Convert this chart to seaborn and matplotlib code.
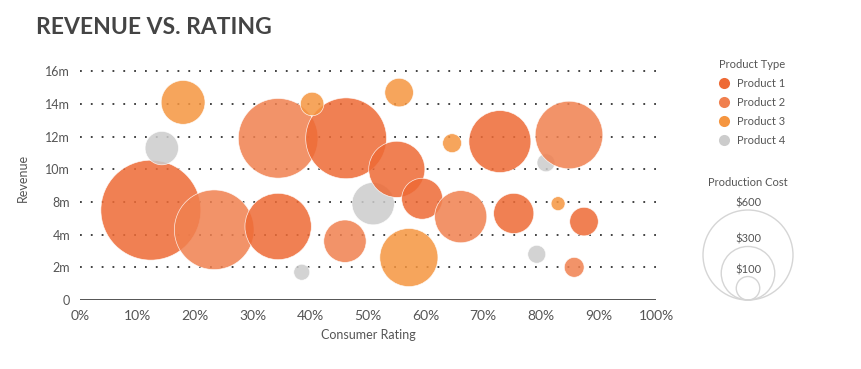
import matplotlib.pyplot as plt
import pandas as pd
import seaborn as sns
from matplotlib.lines import Line2D
from matplotlib.patches import Circle

# data (revenue in axis units, cost in $)
product = ["Product 1", "Product 2", "Product 1", "Product 2", "Product 1",
           "Product 3", "Product 4", "Product 3", "Product 2", "Product 4",
           "Product 4", "Product 3", "Product 1", "Product 1", "Product 3",
           "Product 3", "Product 2", "Product 1", "Product 1", "Product 4",
           "Product 4", "Product 2", "Product 3", "Product 1", "Product 2"]
rating = [12.3, 23.3, 34.4, 34.4, 46.2, 17.9, 14.2, 40.3, 46.0, 38.5,
          50.9, 55.4, 55.0, 59.4, 57.1, 64.6, 66.1, 72.9, 75.3, 79.3,
          80.9, 84.9, 83.0, 87.5, 85.8]
revenue = [5.5, 4.3, 4.5, 9.9, 9.9, 12.1, 9.3, 12.0, 3.6, 1.7,
           5.9, 12.7, 8.0, 6.2, 2.6, 9.6, 5.1, 9.7, 5.3, 2.8,
           8.4, 10.1, 5.9, 4.8, 2.0]
cost = [690, 510, 400, 510, 520, 230, 160, 100, 220, 60,
        220, 130, 320, 210, 335, 75, 290, 365, 205, 70,
        70, 410, 50, 130, 80]

product_types = ["Product 1", "Product 2", "Product 3", "Product 4"]
colors = ["#EE6A35", "#F0804F", "#F5953F", "#CCCCCC"]
ytick_pos = [0, 2, 4, 6, 8, 10, 12, 14]
ytick_labels = ["0", "2m", "4m", "8m", "10m", "12m", "14m", "16m"]
xtick_pos = [0, 10, 20, 30, 40, 50, 60, 70, 80, 90, 100]
legend_costs = [600, 300, 100]

W, H, DPI = 861, 369, 100
text_col = "#555555"
plt.rcParams["font.family"] = ["Lato", "DejaVu Sans"]


def radius_px(c):
    return 45 * (c / 600) ** 0.75


df = pd.DataFrame({"Product": product, "Rating": rating, "Revenue": revenue, "Cost": cost})
df["area"] = [(2 * radius_px(c) * 72 / DPI) ** 2 for c in df["Cost"]]

fig = plt.figure(figsize=(W / DPI, H / DPI), dpi=DPI)
ax = fig.add_axes([80 / W, 69 / H, 576 / W, 245 / H])

for y in ytick_pos[1:]:
    ax.plot([0, 100.8], [y, y], linestyle=(0, (1, 5)), color="#333333",
            lw=1.3, zorder=1, clip_on=False)

sns.scatterplot(data=df, x="Rating", y="Revenue", hue="Product",
                hue_order=product_types, palette=colors,
                size="area", sizes=(df["area"].min(), df["area"].max()),
                size_norm=(df["area"].min(), df["area"].max()),
                alpha=0.85, edgecolor="white", linewidth=0.5,
                legend=False, ax=ax, zorder=2, clip_on=False)

ax.set_xlim(0, 100)
ax.set_ylim(0, 15)
ax.axhline(0, color="#444444", lw=2, zorder=3)
ax.set_xticks(xtick_pos)
ax.set_xticklabels([f"{v}%" for v in xtick_pos], fontsize=10, color=text_col)
ax.set_yticks(ytick_pos)
ax.set_yticklabels(ytick_labels, fontsize=9, color=text_col)
ax.tick_params(length=0, pad=7)
for s in ax.spines.values():
    s.set_visible(False)
ax.set_xlabel("Consumer Rating", fontsize=9, color=text_col, labelpad=5)
ax.set_ylabel("Revenue", fontsize=9, color=text_col, labelpad=12)

fig.text(36 / W, 1 - 27 / H, "REVENUE VS. RATING", fontsize=16.5, fontweight="bold",
         color="#444444", va="center", ha="left")

# product type legend
handles = [Line2D([], [], marker="o", linestyle="", markersize=8,
                  markerfacecolor=c, markeredgecolor="none") for c in colors]
leg = fig.legend(handles, product_types, title="Product Type", loc="upper left",
                 bbox_to_anchor=(713 / W, 1 - 53 / H), frameon=False,
                 fontsize=8, title_fontsize=8, labelspacing=0.72,
                 handletextpad=0.7, borderpad=0, handlelength=1)
leg._legend_box.align = "left"
for t in leg.get_texts():
    t.set_color(text_col)
leg.get_title().set_color(text_col)

# production cost legend
fig.text(748 / W, 1 - 183 / H, "Production Cost", fontsize=8, color=text_col,
         ha="center", va="center")
lax = fig.add_axes([690 / W, 0, 120 / W, 1])
lax.set_xlim(690, 810)
lax.set_ylim(H, 0)
lax.axis("off")
for c in legend_costs:
    r = radius_px(c)
    lax.add_patch(Circle((748, 300 - r), r, facecolor="none",
                         edgecolor="#D5D5D5", lw=1))
    lax.text(748, 300 - 2 * r - 7, f"${c}", fontsize=8, color=text_col,
             ha="center", va="center")

fig.savefig("out.png", dpi=DPI)
